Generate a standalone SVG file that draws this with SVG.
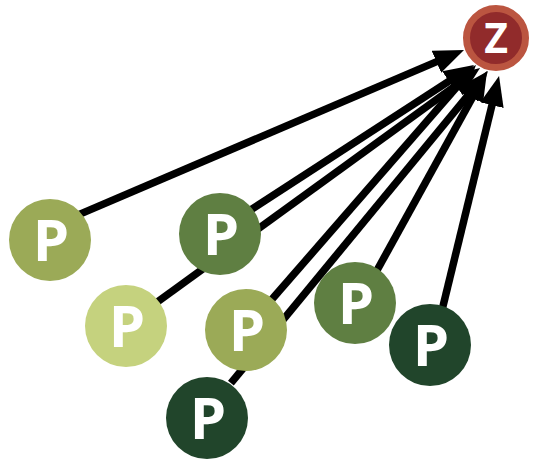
<svg xmlns="http://www.w3.org/2000/svg" width="534" height="462" viewBox="0 0 534 462">
<style>
.edge{stroke:#000;stroke-width:7.5;fill:none;marker-end:url(#arr)}
.lbl{font-family:"Open Sans","Liberation Sans",sans-serif;font-weight:700;fill:#fff;text-anchor:middle}
.p{font-size:58px}
.z{font-size:41px}
.c1{fill:#9baa57}
.c2{fill:#5f7f42}
.c3{fill:#c5d27e}
.c4{fill:#21452b}
</style>
<defs>
<marker id="arr" markerUnits="userSpaceOnUse" viewBox="0 0 30 24" markerWidth="30" markerHeight="24" refX="15" refY="12" orient="auto">
<path d="M0,0 L30,12 L0,24 Z" fill="#000"/>
</marker>
</defs>
<g id="edges">
<line class="edge" x1="77.6" y1="215.1" x2="450.2" y2="55.9"/>
<line class="edge" x1="248.3" y1="211.4" x2="461.4" y2="73.2"/>
<line class="edge" x1="153.5" y1="304.7" x2="467.9" y2="76.8"/>
<line class="edge" x1="268.7" y1="303.0" x2="466.1" y2="76.3"/>
<line class="edge" x1="230.9" y1="383.2" x2="478.5" y2="82.6"/>
<line class="edge" x1="376.1" y1="272.0" x2="479.8" y2="84.1"/>
<line class="edge" x1="442.1" y1="309.8" x2="495.5" y2="90.6"/>
</g>
<g id="z">
<circle cx="496" cy="38" r="29.5" fill="#912b2b" stroke="#bb5540" stroke-width="7"/>
<text class="lbl z" x="496" y="53">Z</text>
</g>
<g id="p1">
<circle class="c1" cx="50" cy="240" r="41"/>
<text class="lbl p" x="51" y="261">P</text>
</g>
<g id="p2">
<circle class="c2" cx="220" cy="234" r="41"/>
<text class="lbl p" x="221" y="255">P</text>
</g>
<g id="p3">
<circle class="c3" cx="126" cy="326" r="41"/>
<text class="lbl p" x="127" y="347">P</text>
</g>
<g id="p4">
<circle class="c1" cx="246" cy="330" r="41"/>
<text class="lbl p" x="247" y="351">P</text>
</g>
<g id="p5">
<circle class="c4" cx="207" cy="418" r="41"/>
<text class="lbl p" x="208" y="439">P</text>
</g>
<g id="p6">
<circle class="c2" cx="355" cy="303" r="41"/>
<text class="lbl p" x="356" y="324">P</text>
</g>
<g id="p7">
<circle class="c4" cx="430" cy="345" r="41"/>
<text class="lbl p" x="431" y="366">P</text>
</g>
</svg>
